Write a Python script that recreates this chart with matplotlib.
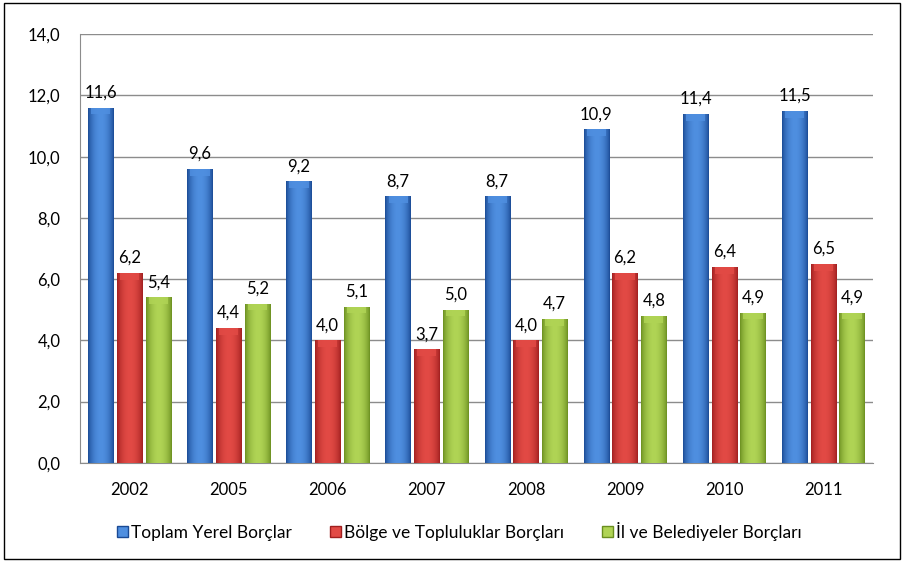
import numpy as np
import matplotlib
matplotlib.use("Agg")
import matplotlib.pyplot as plt
from matplotlib.patches import Patch, Rectangle
from matplotlib.colors import LinearSegmentedColormap

plt.rcParams['font.family'] = ['Lato', 'DejaVu Sans']

years = ['2002', '2005', '2006', '2007', '2008', '2009', '2010', '2011']
toplam = [11.6, 9.6, 9.2, 8.7, 8.7, 10.9, 11.4, 11.5]
bolge = [6.2, 4.4, 4.0, 3.7, 4.0, 6.2, 6.4, 6.5]
il = [5.4, 5.2, 5.1, 5.0, 4.7, 4.8, 4.9, 4.9]
series_names = ['Toplam Yerel Borçlar', 'Bölge ve Topluluklar Borçları', 'İl ve Belediyeler Borçları']

# (dark edge, light center)
shades = [('#1a4a94', '#4f8fe0'), ('#a01f1f', '#e24a45'), ('#6a8e20', '#b0d455')]

fig = plt.figure(figsize=(9.04, 5.61), dpi=100)
ax = fig.add_axes([0.0885, 0.1752, 0.877, 0.7637])

x = np.arange(len(years))
width = 0.255
offsets = [-0.29, 0.0, 0.29]
grad = np.linspace(0, 1, 64)
grad = np.sin(grad * np.pi) ** 0.7
grad = grad.reshape(1, -1)

for vals, off, (dark, light) in zip([toplam, bolge, il], offsets, shades):
    cmap = LinearSegmentedColormap.from_list('g', [dark, light])
    bars = ax.bar(x + off, vals, width, color=light, zorder=3)
    for b, v in zip(bars, vals):
        x0 = b.get_x()
        im = ax.imshow(grad, cmap=cmap, aspect='auto', extent=(x0, x0 + width, 0, v),
                       zorder=4, vmin=0, vmax=1)
        im.set_clip_path(b)
        # lighter bevel at the top
        ax.add_patch(Rectangle((x0 + width * 0.12, v - 0.22), width * 0.76, 0.22,
                               color=light, alpha=0.85, zorder=5, lw=0))
        ax.annotate(f'{v:.1f}'.replace('.', ','), (x0 + width / 2, v), xytext=(0, 5),
                    textcoords='offset points', ha='center', va='bottom', fontsize=12)

ax.set_xlim(-0.5, len(years) - 0.5)
ax.set_ylim(0, 14)
ax.set_yticks(np.arange(0, 14.1, 2))
ax.set_yticklabels([f'{t:.1f}'.replace('.', ',') for t in np.arange(0, 14.1, 2)])
ax.set_xticks(x)
ax.set_xticklabels(years)
ax.tick_params(axis='both', length=0, labelsize=12)
ax.tick_params(axis='y', pad=14)
ax.tick_params(axis='x', pad=14)
ax.grid(axis='y', color='#8c8c8c', lw=1)
ax.set_axisbelow(True)
for s in ['top', 'right']:
    ax.spines[s].set_visible(False)
for s in ['left', 'bottom']:
    ax.spines[s].set_color('#8c8c8c')

handles = [Patch(facecolor=l, edgecolor=d, lw=1) for d, l in shades]
fig.legend(handles, series_names, loc='center left', bbox_to_anchor=(117 / 904, 0.053),
           ncol=3, frameon=False, fontsize=12.5, handlelength=0.65, handleheight=0.65,
           handletextpad=0.15, columnspacing=2.2, borderpad=0, borderaxespad=0)

fig.patches.append(Rectangle((0.004, 0.003), 0.992, 0.992, transform=fig.transFigure,
                             fill=False, edgecolor='black', lw=1))

fig.savefig('out.png', dpi=100)
